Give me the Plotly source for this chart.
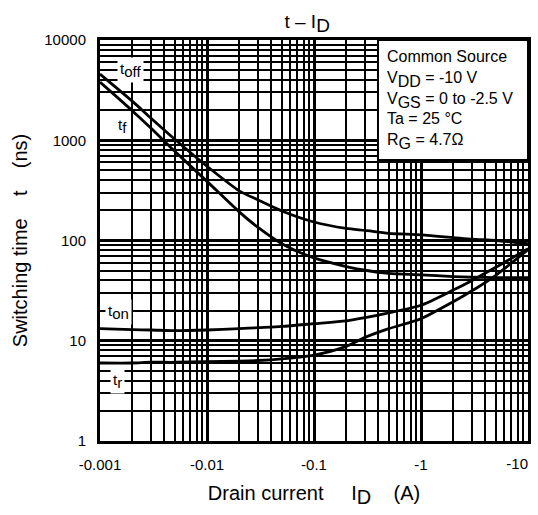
import math
import plotly.graph_objects as go

# ---- data ----
drain_current_A = [-0.001, -0.002, -0.003, -0.005, -0.01, -0.02, -0.03, -0.05,
                   -0.1, -0.2, -0.3, -0.5, -1, -2, -3, -5, -10]
t_off_ns = [4570, 2455, 1660, 1023, 550, 313, 254, 197, 153, 132, 126, 118, 114, 107, 103, 100, 93]
t_f_ns = [3800, 1972, 1318, 776, 389, 193, 135, 93, 67, 55, 50.5, 47, 45.5, 43.6, 43, 42.7, 42.7]
t_on_ns = [13.2, 12.9, 12.8, 12.6, 12.8, 13.2, 13.5, 13.9, 14.8, 15.8, 17, 19, 22.6, 32, 40, 54, 83]
t_r_ns = [6.0, 6.0, 6.1, 6.1, 6.2, 6.25, 6.35, 6.6, 7.2, 8.8, 10.8, 13.2, 16.6, 24.5, 31.5, 45, 81]

x_major = [0.001, 0.01, 0.1, 1, 10]
x_labels = ["-0.001", "-0.01", "-0.1", "-1", "-10"]
y_major = [1, 10, 100, 1000, 10000]
y_labels = ["1", "10", "100", "1000", "10000"]

FONT = "Liberation Sans, Arial, sans-serif"
x_abs = [-v for v in drain_current_A]

x_minor = [d * k for d in x_major[:-1] for k in range(2, 10)]
y_minor = [d * k for d in y_major[:-1] for k in range(2, 10)]

fig = go.Figure()
for name, ys in [("toff", t_off_ns), ("tf", t_f_ns), ("ton", t_on_ns), ("tr", t_r_ns)]:
    fig.add_trace(go.Scatter(x=x_abs, y=ys, mode="lines", name=name,
                             line=dict(color="black", width=2.8, shape="spline", smoothing=0.7),
                             showlegend=False))


def sub(main, s):
    # full-size, lowered subscript as in the reference
    return f"{main}<span style='baseline-shift:-0.22em'>{s}</span>"


# curve labels (positions in data units; log axes take log10 values)
curve_labels = [
    (0.00191, 5000, sub("t", "off")),
    (0.00164, 1380, sub("t", "f")),
    (0.00150, 19.5, sub("t", "on")),
    (0.00147, 4.0, sub("t", "r")),
]
for x, y, txt in curve_labels:
    fig.add_annotation(x=math.log10(x), y=math.log10(y), xref="x", yref="y", text=txt,
                       showarrow=False, xanchor="center", yanchor="middle", bgcolor="white",
                       borderpad=2, font=dict(family=FONT, size=15, color="black"))

# condition box
fig.add_shape(type="rect", xref="paper", yref="paper", x0=0.6495, x1=1.0, y0=0.7007, y1=1.0,
              fillcolor="white", line=dict(color="black", width=2), layer="above")
cond = "<br>".join([
    "Common Source",
    sub("V", "DD") + " = -10 V",
    sub("V", "GS") + " = 0 to -2.5 V",
    "Ta = 25 °C",
    sub("R", "G") + " = 4.7Ω",
])
fig.add_annotation(x=0.667, y=(441 - 46) / 401, xref="paper", yref="paper", text=cond,
                   showarrow=False, xanchor="left", yanchor="top", align="left",
                   font=dict(family=FONT, size=16, color="black"))

axis_common = dict(type="log", showline=True, mirror=True, linecolor="black", linewidth=3,
                   showgrid=True, gridcolor="black", gridwidth=2.6, ticks="",
                   zeroline=False, tickfont=dict(family=FONT, size=15, color="black"))

NB4 = "\u00a0" * 4
fig.update_xaxes(**axis_common, range=[-3, 1], tickmode="array", tickvals=x_major[:-1],
                 ticktext=x_labels[:-1], ticklabelstandoff=8,
                 minor=dict(tickmode="array", tickvals=x_minor, showgrid=True,
                            gridcolor="black", gridwidth=1.8, ticks=""),
                 title=dict(text="Drain current" + NB4 + "\u00a0" + sub("I", "D") + NB4 + "(A)",
                            font=dict(family=FONT, size=20, color="black"), standoff=14))
fig.update_yaxes(**axis_common, range=[0, 4], tickmode="array", tickvals=y_major, ticktext=y_labels,
                 ticklabelstandoff=8,
                 minor=dict(tickmode="array", tickvals=y_minor, showgrid=True,
                            gridcolor="black", gridwidth=1.8, ticks=""),
                 title=dict(text="Switching time" + NB4 + "t" + NB4 + "(ns)",
                            font=dict(family=FONT, size=20, color="black"), standoff=12))

# overlay axis carrying the last x label, right-aligned so it stays inside the page
fig.update_layout(xaxis2=dict(type="log", overlaying="x", side="bottom", range=[-3, 1],
                              tickmode="array", tickvals=x_major[-1:], ticktext=x_labels[-1:],
                              ticklabelposition="outside left", ticklabelstandoff=12, ticks="",
                              showgrid=False, showline=False, zeroline=False,
                              tickfont=dict(family=FONT, size=15, color="black")))
fig.add_trace(go.Scatter(x=[x_abs[-1]], y=[t_off_ns[-1]], xaxis="x2", mode="lines",
                         line=dict(color="black", width=0), showlegend=False, hoverinfo="skip"))

fig.update_layout(
    width=538, height=515,
    margin=dict(l=100, r=10, t=40, b=74, autoexpand=False),
    paper_bgcolor="white", plot_bgcolor="white",
    title=dict(text="t – " + sub("I", "D"), x=0.484, xref="paper", y=1 - 21 / 515,
               yanchor="middle", font=dict(family=FONT, size=19, color="black")),
)

fig.write_html("out.html")
